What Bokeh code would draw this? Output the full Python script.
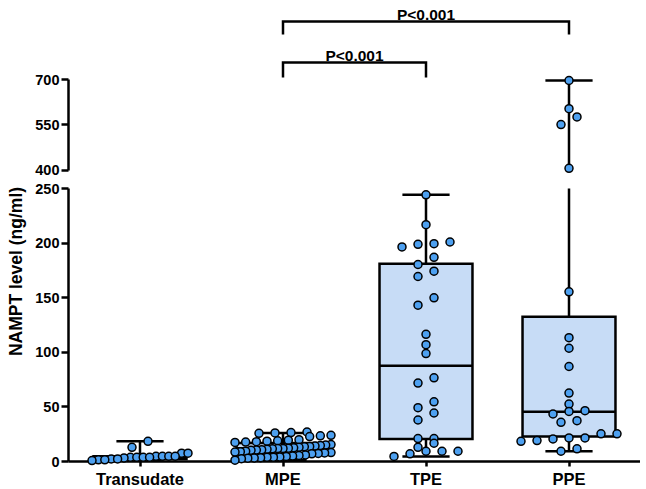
import numpy as np
from bokeh.plotting import figure
from bokeh.models import ColumnDataSource, FactorRange, Range1d, FixedTicker
from bokeh.transform import dodge
from bokeh.layouts import column
from bokeh.embed import file_html
from bokeh.resources import INLINE
from bokeh.core.properties import value

# ---------------- data ----------------
categories = ["Transudate", "MPE", "TPE", "PPE"]

transudate = [18.5, 13.0, 7.6, 7.6, 4.8, 4.8, 4.8, 4.8, 3.9, 3.9, 3.9, 3.9,
              3.3, 2.4, 2.4, 1.5, 1.5, 0.9]
mpe = [26.5, 27.0, 26.2, 25.8,
       24.0, 23.5, 22.8,
       20.0, 19.5, 19.0, 18.6, 18.2, 17.8, 17.5,
       15.5, 15.0, 14.6, 14.2, 13.8, 13.5, 13.0,
       12.5, 12.2, 12.0, 11.8, 11.6, 11.2, 10.8, 10.5, 10.2,
       9.5, 9.0, 8.6, 8.2, 7.8, 7.4, 7.0,
       6.0, 5.5, 5.0, 4.6, 4.2, 4.0, 3.8, 3.5, 3.2, 3.0, 2.6,
       1.2]
tpe = [244.2, 216.9, 201.0, 199.5, 198.9, 196.5, 187.0, 180.4, 174.3, 169.4,
       149.9, 143.2, 116.5, 107.0, 98.8, 76.6, 71.8, 54.7, 49.3, 44.4,
       38.0, 21.0, 21.0, 16.7, 13.0, 9.4, 9.4, 9.4, 7.0, 4.6]
ppe = [696.7, 603.4, 575.8, 550.6, 405.6, 155.4, 113.4, 103.7, 87.0, 62.7,
       52.6, 46.5, 45.9, 43.5, 37.4, 35.9, 25.3, 25.3, 21.6, 21.6,
       20.7, 19.2, 18.5, 11.6, 9.4]
groups = [transudate, mpe, tpe, ppe]

box_q1 = [2.4, 7.0, 20.7, 22.8]
box_median = [3.9, 12.1, 87.6, 45.6]
box_q3 = [4.8, 17.0, 181.0, 132.6]
whisker_low = [0.9, 1.2, 4.6, 9.4]
whisker_high = [18.5, 26.2, 244.2, 696.7]

lower_ticks = [0, 50, 100, 150, 200, 250]
upper_ticks = [400, 550, 700]

comparisons = [("MPE", "TPE"), ("MPE", "PPE")]
p_labels = ["P<0.001", "P<0.001"]

y_title = "NAMPT level (ng/ml)"

# ---------------- geometry / style ----------------
FONT = "Liberation Sans"
LINE_W = 2.5
LEFT_PX = 68
FRAME_W = 572
CAT_PX = FRAME_W / len(categories)
LOW_MAX = 250.0
LOW_H = 273                  # px of the lower segment (0..250)
LOW_SCALE = LOW_H / LOW_MAX
UP_MIN, UP_MAX = 400.0, 700.0
TOP_ABOVE_PX = 79            # px from top of page to the 700 tick
TOP_BELOW_PX = 1.5           # px below the 400 tick inside the upper frame
TOP_H = 171                  # frame height of the upper panel
UP_SCALE = (TOP_H - TOP_ABOVE_PX - TOP_BELOW_PX) / (UP_MAX - UP_MIN)
TOP_PAD_BOTTOM = 8
LOW_PAD_TOP = 9
BOX_W = 0.65
CAP_W = 0.33
BOX_FILL = "#C7DCF6"
PT_FILL = "#4DA0F0"
TICK_FONT = "14.5px"

xr = FactorRange(factors=categories, range_padding=0)


def screen_pos(v):
    if v <= LOW_MAX:
        return v * LOW_SCALE
    return LOW_H + LOW_PAD_TOP + TOP_PAD_BOTTOM + TOP_BELOW_PX + (v - UP_MIN) * UP_SCALE


def swarm_offsets(vals, bin_px=8.0, step_px=16.0, max_px=96.0):
    vals = np.asarray(vals, float)
    pos = np.array([screen_pos(v) for v in vals])
    order = np.argsort(pos, kind="stable")
    offsets = np.zeros(len(vals))
    bins, cur, start = [], [order[0]], pos[order[0]]
    for i in order[1:]:
        if pos[i] - start <= bin_px:
            cur.append(i)
        else:
            bins.append(cur)
            cur, start = [i], pos[i]
    bins.append(cur)
    for b in bins:
        n = len(b)
        if n == 1:
            continue
        sp = min(step_px, max_px / (n - 1))
        for k, i in enumerate(b):
            offsets[i] = (k - (n - 1) / 2) * sp
    return offsets / CAT_PX


px, py = [], []
for idx, vals in enumerate(groups):
    off = swarm_offsets(vals)
    px.extend(idx + 0.5 + off)
    py.extend(vals)
px = np.array(px)
py = np.array(py)

box_data = dict(cat=categories, q1=box_q1, med=box_median, q3=box_q3,
                lo=whisker_low, hi=whisker_high)
box_src = ColumnDataSource(box_data)
tall = [i for i, h in enumerate(whisker_high) if h > UP_MIN]
tall_src = ColumnDataSource({k: [v[i] for i in tall] for k, v in box_data.items()})

KW = dict(line_color="black", line_width=LINE_W)


def draw_upper_whiskers(p, src):
    p.segment(x0="cat", y0="q3", x1="cat", y1="hi", source=src, **KW)
    p.segment(x0=dodge("cat", -CAP_W / 2, range=xr), y0="hi",
              x1=dodge("cat", CAP_W / 2, range=xr), y1="hi", source=src, **KW)


def draw_boxes(p, src):
    draw_upper_whiskers(p, src)
    p.segment(x0="cat", y0="lo", x1="cat", y1="q1", source=src, **KW)
    p.segment(x0=dodge("cat", -CAP_W / 2, range=xr), y0="lo",
              x1=dodge("cat", CAP_W / 2, range=xr), y1="lo", source=src, **KW)
    p.vbar(x="cat", bottom="q1", top="q3", width=BOX_W, fill_color=BOX_FILL,
           line_join="miter", source=src, **KW)
    p.segment(x0=dodge("cat", -BOX_W / 2, range=xr), y0="med",
              x1=dodge("cat", BOX_W / 2, range=xr), y1="med", source=src, **KW)


def draw_points(p, mask):
    src = ColumnDataSource(dict(x=px[mask], y=py[mask]))
    p.scatter(x="x", y="y", source=src, size=8, fill_color=PT_FILL,
              line_color="black", line_width=1.5, level="overlay")


def style_yaxis(ax, ticks, bounds):
    ax.ticker = FixedTicker(ticks=ticks, minor_ticks=[])
    ax.bounds = bounds
    ax.axis_line_width = LINE_W
    ax.axis_line_color = "black"
    ax.major_tick_line_width = LINE_W
    ax.major_tick_line_color = "black"
    ax.major_tick_out = 7
    ax.major_tick_in = 0
    ax.minor_tick_line_color = None
    ax.major_label_text_font = FONT
    ax.major_label_text_font_style = "bold"
    ax.major_label_text_font_size = TICK_FONT
    ax.major_label_text_color = "black"
    ax.major_label_standoff = 2


def base_fig(**kw):
    p = figure(x_range=xr, frame_width=FRAME_W, toolbar_location=None,
               output_backend="svg", min_border_left=LEFT_PX, min_border_right=0,
               background_fill_color="white", border_fill_color="white", **kw)
    p.outline_line_color = None
    p.xgrid.visible = False
    p.ygrid.visible = False
    return p


# ---------------- upper panel (400-700) ----------------
top_end = UP_MAX + TOP_ABOVE_PX / UP_SCALE
top_start = UP_MIN - TOP_BELOW_PX / UP_SCALE
p1 = base_fig(frame_height=TOP_H, y_range=Range1d(top_start, top_end),
              x_axis_location=None, min_border_top=0, min_border_bottom=TOP_PAD_BOTTOM)
style_yaxis(p1.yaxis[0], upper_ticks, (UP_MIN, UP_MAX))
draw_upper_whiskers(p1, tall_src)
draw_points(p1, py >= UP_MIN - 10)

# significance brackets (pixel heights above the 700 tick)
bracket_top_px = [17, 58]
bracket_leg_px = [15, 13]
text_gap_px = 7
bx, by, tx, ty = [], [], [], []
for i, (a, b) in enumerate(comparisons):
    top = UP_MAX + bracket_top_px[i] / UP_SCALE
    bot = top - bracket_leg_px[i] / UP_SCALE
    bx.append([a, a, b, b])
    by.append([bot, top, top, bot])
    tx.append((categories.index(a) + categories.index(b)) / 2 + 0.5)
    ty.append(top + text_gap_px / UP_SCALE)
p1.multi_line(xs=bx, ys=by, line_color="black", line_width=LINE_W, line_join="miter")
p1.text(x=tx, y=ty, text=p_labels, text_align="center", text_baseline="alphabetic",
        text_font=value(FONT), text_font_style="bold", text_font_size="15.5px",
        text_color="black", level="overlay")

# ---------------- lower panel (0-250) ----------------
p2 = base_fig(frame_height=LOW_H, y_range=Range1d(0, LOW_MAX),
              min_border_top=LOW_PAD_TOP, min_border_bottom=0)
style_yaxis(p2.yaxis[0], lower_ticks, (0, LOW_MAX))
xa = p2.xaxis[0]
xa.axis_line_width = LINE_W
xa.axis_line_color = "black"
xa.major_tick_line_width = LINE_W
xa.major_tick_out = 5
xa.major_tick_in = 0
xa.major_label_text_font = FONT
xa.major_label_text_font_style = "bold"
xa.major_label_text_font_size = "16.5px"
xa.major_label_text_color = "black"
xa.major_label_standoff = 3
draw_boxes(p2, box_src)
draw_points(p2, py <= LOW_MAX)

# rotated y-axis title (kept inside the lower panel's canvas)
title_x_px = 15 - LEFT_PX
title_y_px = 190            # above the x axis
p2.text(x=[title_x_px / CAT_PX], y=[title_y_px / LOW_SCALE], text=[y_title],
        angle=np.pi / 2, text_align="center", text_baseline="middle",
        text_font=value(FONT), text_font_style="bold", text_font_size="17.5px",
        text_color="black", level="overlay")

layout = column(p1, p2)
open("out.html", "w").write(file_html(layout, INLINE))
